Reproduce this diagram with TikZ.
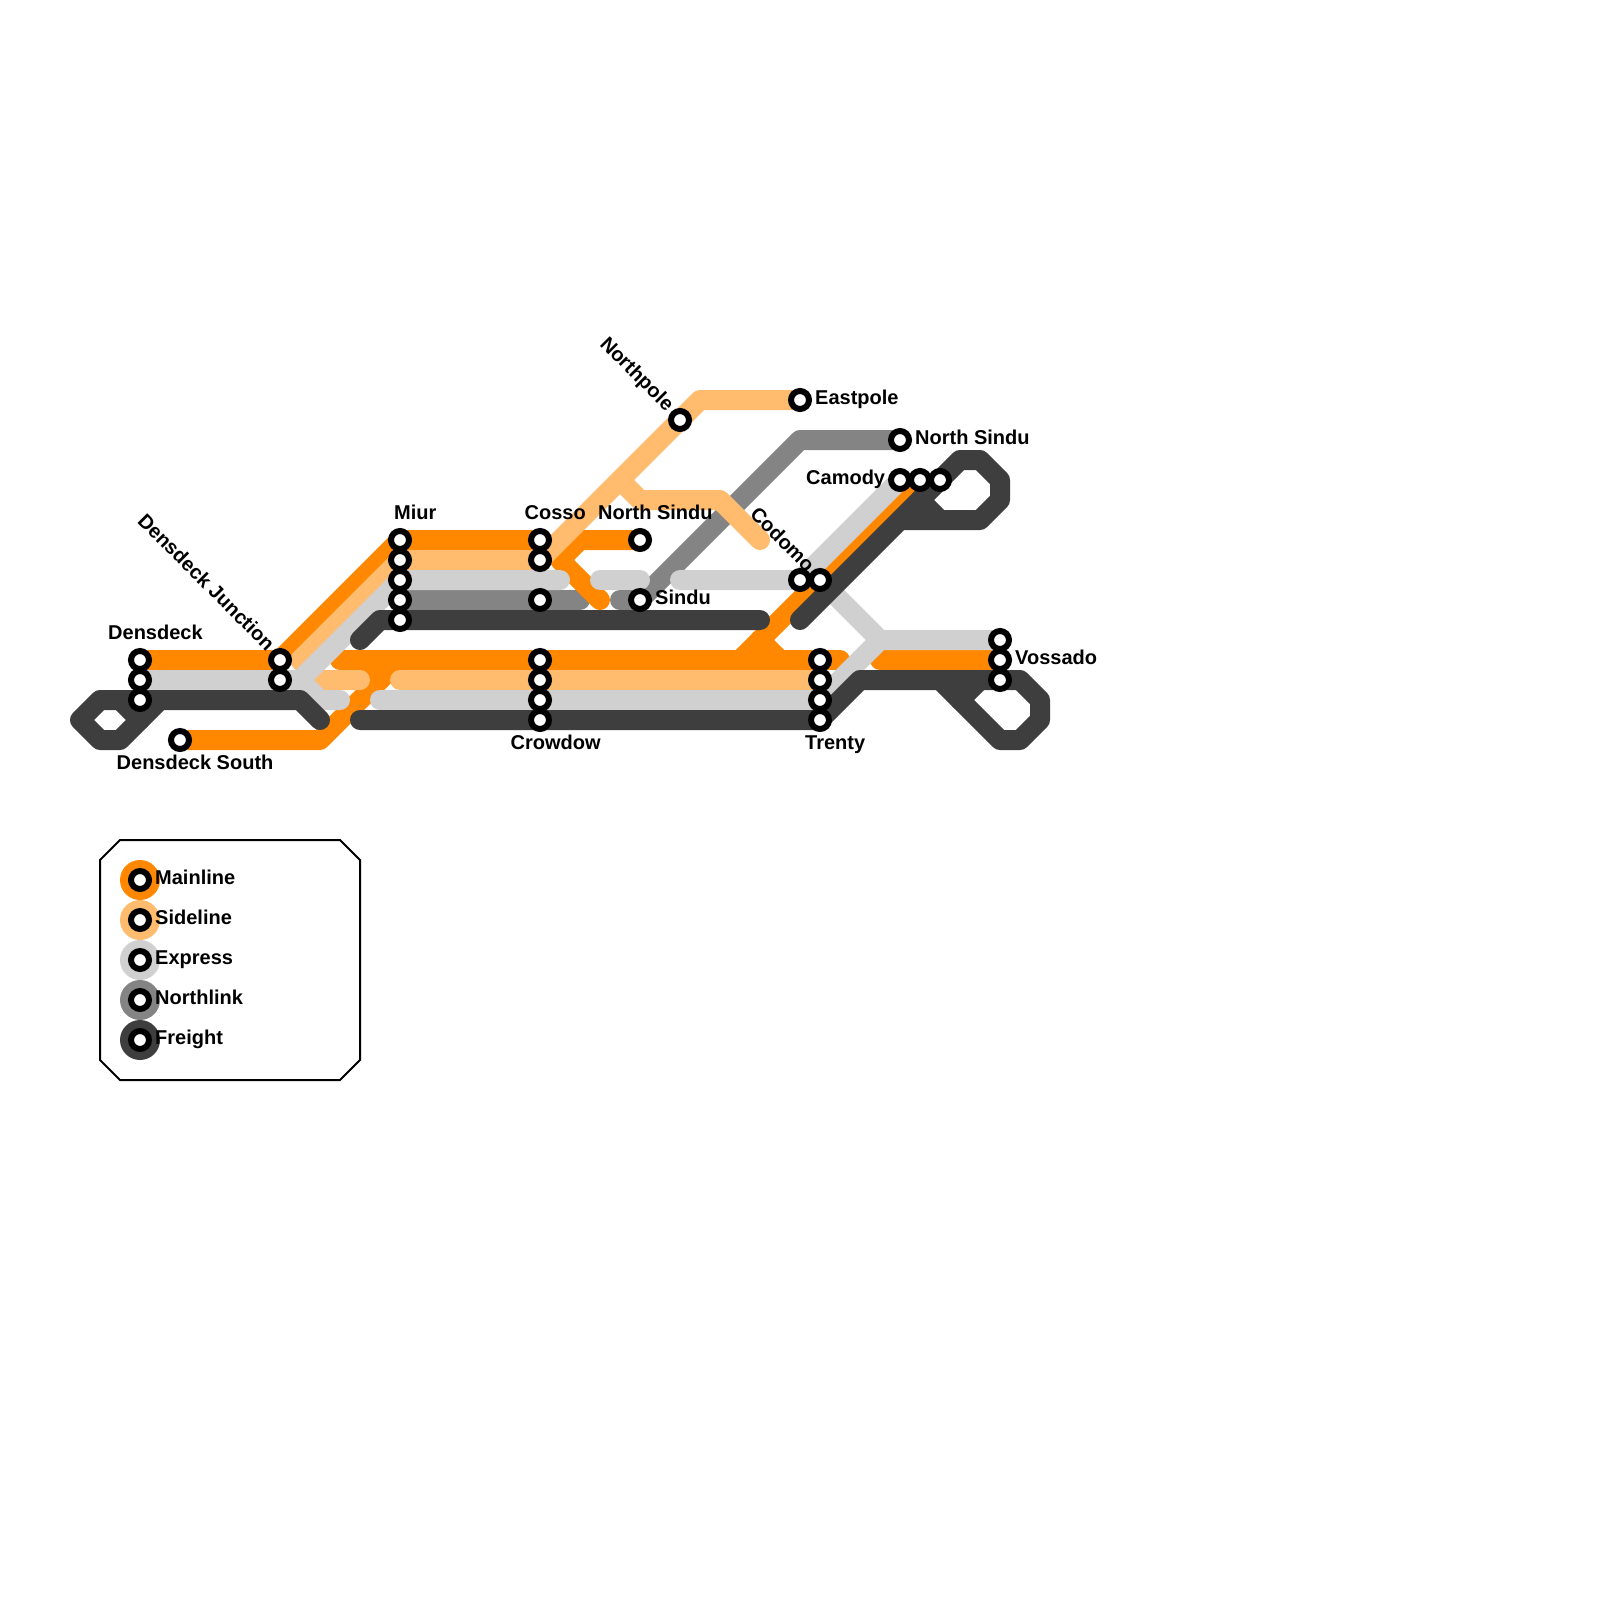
\documentclass[tikz,border=0pt]{standalone}
\usepackage{fontspec}
\setmainfont{Liberation Sans}
\definecolor{cMain}{HTML}{FF8800}
\definecolor{cSide}{HTML}{FFBB6E}
\definecolor{cExpr}{HTML}{D0D0D0}
\definecolor{cNorth}{HTML}{848484}
\definecolor{cFreight}{HTML}{3E3E3E}
\tikzset{
  route/.style={line width=20pt,line cap=round,line join=round},
  stn/.style={circle,draw=black,fill=white,line width=6pt,minimum size=18pt,inner sep=0pt},
  lab/.style={inner sep=0pt,font=\fontsize{20}{24}\selectfont\bfseries,text=black},
  swatch/.style={circle,minimum size=40pt,inner sep=0pt},
}
\begin{document}
\begin{tikzpicture}[x=1pt,y=-1pt]
\useasboundingbox[fill=white] (0,0) rectangle (1600,1600);
% station positions
\foreach \n/\x/\y in {dA/140/660,dB/140/680,dC/140/700,jA/280/660,jB/280/680,south/180/740,
  mA/400/540,mB/400/560,mC/400/580,mD/400/600,mE/400/620,
  cA/540/540,cB/540/560,cC/540/600,
  wA/540/660,wB/540/680,wC/540/700,wD/540/720,
  tA/820/660,tB/820/680,tC/820/700,tD/820/720,
  nsA/640/540,sin/640/600,cdA/800/580,cdB/820/580,
  caA/900/480,caB/920/480,caC/940/480,nsB/900/440,east/800/400,npole/680/420,
  vA/1000/640,vB/1000/660,vC/1000/680}
  {\coordinate (\n) at (\x,\y);}
% Northlink
\draw[route,cNorth] (mD) -- (580,600);
\draw[route,cNorth] (620,600) -- (640,600) -- (800,440) -- (nsB);
% Mainline
\draw[route,cMain] (dA) -- (jA) -- (mA) -- (cA);
\draw[route,cMain] (nsA) -- (580,540) -- (560,560) -- (600,600);
\draw[route,cMain] (340,660) -- (840,660);
\draw[route,cMain] (south) -- (320,740) -- (400,660);
\draw[route,cMain] (360,660) -- (380,680);
\draw[route,cMain] (tA) -- (780,660) -- (760,640) -- (caB);
\draw[route,cMain] (740,660) -- (760,640);
\draw[route,cMain] (880,660) -- (vB);
% Sideline
\draw[route,cSide] (360,680) -- (320,680) -- (300,660) -- (mB) -- (cB) -- (npole) -- (700,400) -- (east);
\draw[route,cSide] (620,480) -- (640,500) -- (720,500) -- (760,540);
\draw[route,cSide] (400,680) -- (tB);
% Express
\draw[route,cExpr] (dB) -- (300,680) -- (mC) -- (560,580);
\draw[route,cExpr] (300,680) -- (320,700) -- (340,700);
\draw[route,cExpr] (600,580) -- (640,580);
\draw[route,cExpr] (680,580) -- (cdA) -- (caA);
\draw[route,cExpr] (380,700) -- (tC) -- (880,640) -- (vA);
\draw[route,cExpr] (880,640) -- (cdB);
% Freight
\draw[route,cFreight] (320,720) -- (300,700) -- (100,700) -- (80,720) -- (100,740) -- (120,740) -- (160,700);
\draw[route,cFreight] (120,700) -- (140,720);
\draw[route,cFreight] (360,640) -- (380,620) -- (760,620);
\draw[route,cFreight] (360,720) -- (tD) -- (860,680) -- (1020,680) -- (1040,700) -- (1040,720) -- (1020,740) -- (1000,740) -- (940,680);
\draw[route,cFreight] (960,700) -- (980,680);
\draw[route,cFreight] (800,620) -- (900,520) -- (980,520) -- (1000,500) -- (1000,480) -- (980,460) -- (960,460) -- (900,520);
\draw[route,cFreight] (920,500) -- (940,520);
% stations
\foreach \n in {dA,dB,dC,jA,jB,south,mA,mB,mC,mD,mE,cA,cB,cC,wA,wB,wC,wD,tA,tB,tC,tD,nsA,sin,cdA,cdB,caA,caB,caC,nsB,east,npole,vA,vB,vC}
  {\node[stn] (st\n) at (\n) {};}
% labels
\node[lab,anchor=base west] (lDens) at (108,639.5) {Densdeck};
\node[lab,anchor=base west] (lSouth) at (116.5,769.5) {Densdeck South};
\node[lab,anchor=base east,rotate=-45] (lJunc) at (266.5,652) {Densdeck Junction};
\node[lab,anchor=base west] (lMiur) at (394,519.5) {Miur};
\node[lab,anchor=base west] (lCosso) at (524.5,519.5) {Cosso};
\node[lab,anchor=base west] (lNS) at (598,519.5) {North Sindu};
\node[lab,anchor=base west] (lSindu) at (655,604.5) {Sindu};
\node[lab,anchor=base west] (lCrow) at (510.5,749.5) {Crowdow};
\node[lab,anchor=base west] (lTrenty) at (805,749.5) {Trenty};
\node[lab,anchor=base west] (lVoss) at (1015,664.5) {Vossado};
\node[lab,anchor=base west] (lNSb) at (915,444.5) {North Sindu};
\node[lab,anchor=base west] (lCam) at (806,484.5) {Camody};
\node[lab,anchor=base west] (lEast) at (815,404.5) {Eastpole};
\node[lab,anchor=base east,rotate=-45] (lNorth) at (666,412) {Northpole};
\node[lab,anchor=base east,rotate=-45] (lCod) at (806.5,573) {Codomo};
% legend
\draw[line width=2pt,black,fill=white] (120,840) -- (340,840) -- (360,860) -- (360,1060) -- (340,1080) -- (120,1080) -- (100,1060) -- (100,860) -- cycle;
\foreach \c/\y/\t in {cMain/880/Mainline,cSide/920/Sideline,cExpr/960/Express,cNorth/1000/Northlink,cFreight/1040/Freight}{
  \node[swatch,fill=\c] (sw\t) at (140,\y) {};
  \node[stn] (ls\t) at (140,\y) {};
  \node[lab,anchor=base west] (ll\t) at (155,\y+4.5) {\t};
}
\end{tikzpicture}
\end{document}
